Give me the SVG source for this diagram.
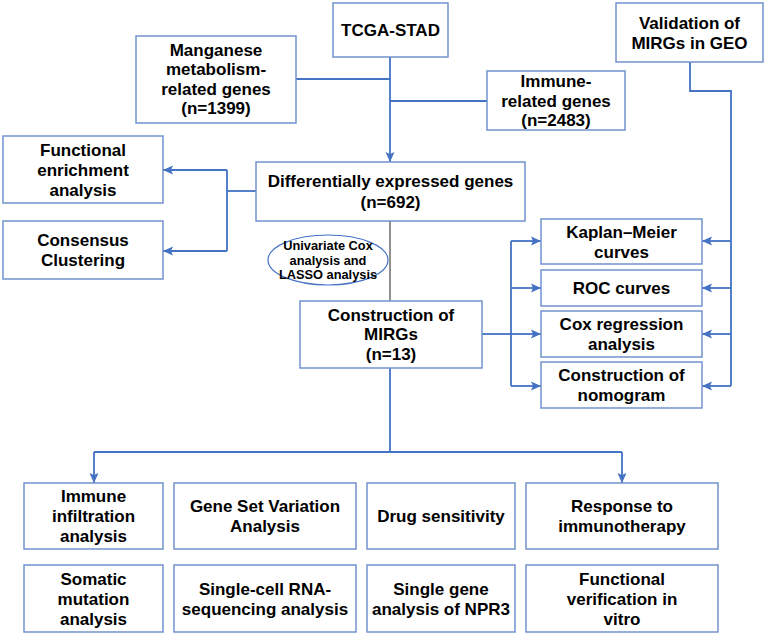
<svg xmlns="http://www.w3.org/2000/svg" width="766" height="635" viewBox="0 0 766 635">
<style>
.box{fill:#fff;stroke:#7392CE;stroke-width:1.5}
.t{font-family:"Liberation Sans",Arial,sans-serif;font-weight:bold;font-size:17px;fill:#000;text-anchor:middle}
.s{font-size:12.8px}
.c{fill:none;stroke:#4472C4;stroke-width:1.8}
.a{marker-end:url(#arr)}
</style>
<defs>
<marker id="arr" markerUnits="userSpaceOnUse" markerWidth="10" markerHeight="10" viewBox="0 0 10 10" refX="10" refY="5" orient="auto">
<path d="M0,0.5 L10,5 L0,9.5 L2,5 Z" fill="#4472C4"/>
</marker>
</defs>
<rect width="766" height="635" fill="#fff"/>
<g id="connectors">
<path class="c a" d="M390 57 V162"/>
<path class="c" d="M296 79 H390"/>
<path class="c" d="M487 101 H390"/>
<path class="c" d="M256 191 H227"/>
<path class="c" d="M227 170 V251"/>
<path class="c a" d="M227 170 H163"/>
<path class="c a" d="M227 251 H163"/>
<path d="M390 221 V301" fill="none" stroke="#222" stroke-width="1"/>
<path class="c" d="M390 368 V452"/>
<path class="c" d="M94 452 H622"/>
<path class="c a" d="M94 452 V483"/>
<path class="c a" d="M622 452 V483"/>
<path class="c" d="M482 334 H511"/>
<path class="c" d="M511 241 V386"/>
<path class="c a" d="M511 241 H541"/>
<path class="c a" d="M511 288 H541"/>
<path class="c a" d="M511 334 H541"/>
<path class="c a" d="M511 386 H541"/>
<path class="c" d="M690 62 V91 H731 V386"/>
<path class="c a" d="M731 241 H702"/>
<path class="c a" d="M731 288 H702"/>
<path class="c a" d="M731 334 H702"/>
<path class="c a" d="M731 386 H702"/>
</g>
<g id="tcga"><rect class="box" x="333" y="3" width="115" height="54"/><text class="t" x="390.5" y="36">TCGA-STAD</text></g>
<g id="manganese"><rect class="box" x="136" y="36" width="160" height="87"/><text class="t" x="216" y="55.5">Manganese</text><text class="t" x="216" y="75">metabolism-</text><text class="t" x="216" y="94.5">related genes</text><text class="t" x="216" y="114">(n=1399)</text></g>
<g id="immune"><rect class="box" x="487" y="71" width="138" height="59"/><text class="t" x="556" y="87">Immune-</text><text class="t" x="556" y="106.5">related genes</text><text class="t" x="556" y="126">(n=2483)</text></g>
<g id="validation"><rect class="box" x="616" y="3" width="147" height="59"/><text class="t" x="689.5" y="28.5">Validation of</text><text class="t" x="689.5" y="48.5">MIRGs in GEO</text></g>
<g id="deg"><rect class="box" x="256" y="162" width="269" height="59"/><text class="t" x="390.5" y="187">Differentially expressed genes</text><text class="t" x="390.5" y="207.5">(n=692)</text></g>
<g id="functional"><rect class="box" x="3" y="136" width="160" height="67"/><text class="t" x="83" y="155.5">Functional</text><text class="t" x="83" y="175.5">enrichment</text><text class="t" x="83" y="195.5">analysis</text></g>
<g id="consensus"><rect class="box" x="3" y="221" width="160" height="58"/><text class="t" x="83" y="246">Consensus</text><text class="t" x="83" y="266">Clustering</text></g>
<g id="cox-lasso"><ellipse cx="328" cy="260" rx="60" ry="25" fill="#fff" stroke="#4472C4" stroke-width="1.2"/><text class="t s" x="328" y="250">Univariate Cox</text><text class="t s" x="328" y="264.5">analysis and</text><text class="t s" x="328" y="279">LASSO  analysis</text></g>
<g id="mirgs"><rect class="box" x="300" y="301" width="182" height="67"/><text class="t" x="391" y="320.5">Construction of</text><text class="t" x="391" y="340">MIRGs</text><text class="t" x="391" y="359.5">(n=13)</text></g>
<g id="km"><rect class="box" x="541" y="219" width="161" height="45"/><text class="t" x="621.5" y="237.5">Kaplan–Meier</text><text class="t" x="621.5" y="257.5">curves</text></g>
<g id="roc"><rect class="box" x="541" y="270" width="161" height="36"/><text class="t" x="621.5" y="294">ROC curves</text></g>
<g id="coxreg"><rect class="box" x="541" y="311" width="161" height="46"/><text class="t" x="621.5" y="330">Cox regression</text><text class="t" x="621.5" y="350">analysis</text></g>
<g id="nomogram"><rect class="box" x="541" y="362" width="161" height="46"/><text class="t" x="621.5" y="381">Construction of</text><text class="t" x="621.5" y="401">nomogram</text></g>
<g id="infiltration"><rect class="box" x="24" y="483" width="139" height="66"/><text class="t" x="93.5" y="502">Immune</text><text class="t" x="93.5" y="522">infiltration</text><text class="t" x="93.5" y="542">analysis</text></g>
<g id="gsva"><rect class="box" x="174" y="483" width="182" height="66"/><text class="t" x="265" y="512">Gene Set Variation</text><text class="t" x="265" y="532">Analysis</text></g>
<g id="drug"><rect class="box" x="367" y="483" width="148" height="66"/><text class="t" x="441" y="522">Drug sensitivity</text></g>
<g id="response"><rect class="box" x="526" y="483" width="192" height="66"/><text class="t" x="622" y="512">Response to</text><text class="t" x="622" y="532">immunotherapy</text></g>
<g id="somatic"><rect class="box" x="24" y="565" width="139" height="67"/><text class="t" x="93.5" y="584.5">Somatic</text><text class="t" x="93.5" y="604.5">mutation</text><text class="t" x="93.5" y="624.5">analysis</text></g>
<g id="scrna"><rect class="box" x="174" y="565" width="182" height="67"/><text class="t" x="265" y="594.5">Single-cell RNA-</text><text class="t" x="265" y="614.5">sequencing analysis</text></g>
<g id="npr3"><rect class="box" x="367" y="565" width="148" height="67"/><text class="t" x="441" y="594.5">Single gene</text><text class="t" x="441" y="614.5">analysis of NPR3</text></g>
<g id="vitro"><rect class="box" x="526" y="565" width="192" height="67"/><text class="t" x="622" y="584.5">Functional</text><text class="t" x="622" y="604.5">verification in</text><text class="t" x="622" y="624.5">vitro</text></g>
</svg>
